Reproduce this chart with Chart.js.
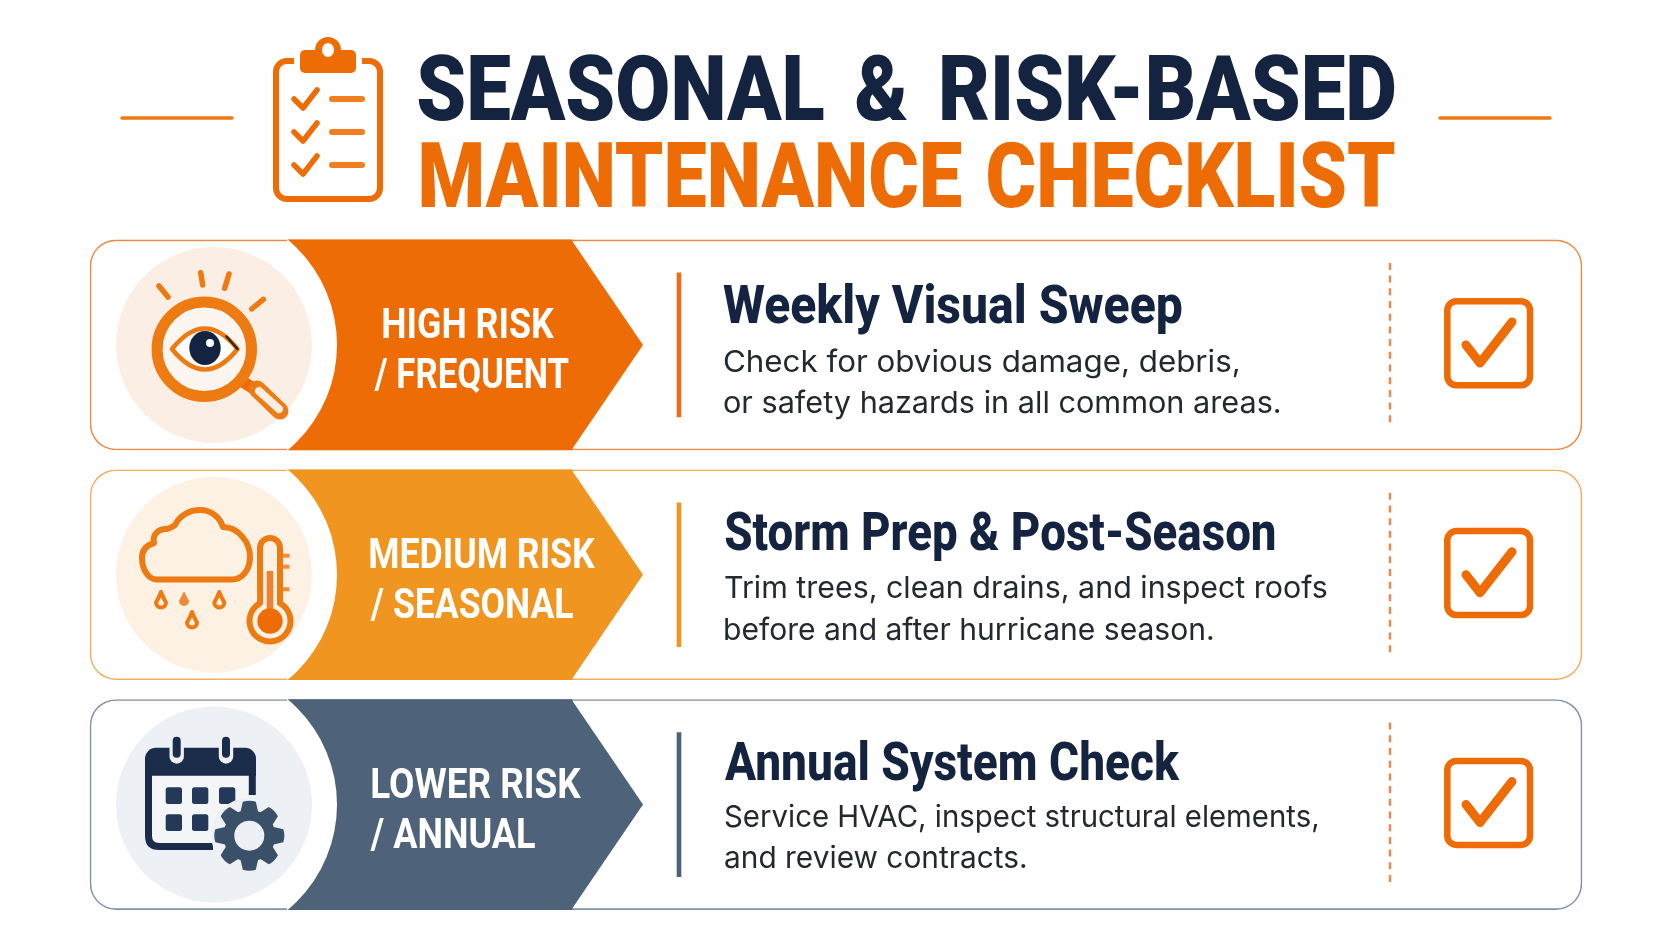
<!DOCTYPE html>
<html><head><meta charset="utf-8">
<style>html,body{margin:0;padding:0;background:#FEFEFE}canvas{display:block}</style>
<script src="https://cdn.jsdelivr.net/npm/chart.js@4"></script>
</head><body><canvas id="c" width="1672" height="941"></canvas>
<script>
// ---------- content ----------
const titleLines = ["SEASONAL & RISK-BASED", "MAINTENANCE CHECKLIST"];
const categories = ["High Risk / Frequent", "Medium Risk / Seasonal", "Lower Risk / Annual"];
const riskLine1 = ["HIGH RISK", "MEDIUM RISK", "LOWER RISK"];
const riskLine2 = ["/ FREQUENT", "/ SEASONAL", "/ ANNUAL"];
const tasks = ["Weekly Visual Sweep", "Storm Prep & Post-Season", "Annual System Check"];
const descLine1 = ["Check for obvious damage, debris,", "Trim trees, clean drains, and inspect roofs", "Service HVAC, inspect structural elements,"];
const descLine2 = ["or safety hazards in all common areas.", "before and after hurricane season.", "and review contracts."];

// ---------- layout and style (kept apart from the content) ----------
const W = 1672, H = 941;
const NAVY = "#14233F", ORANGE = "#EE6C05", LINE = "#EE7A12", INK = "#23292F";
const bandColors = ["#EE6C05", "#F0951F", "#4E6379"];
const borderColors = ["#EC8A48", "#F2AE5E", "#8193A7"];
const accentColors = ["#E8701A", "#F0951F", "#4E6379"];
const discColors = ["#FBEEE4", "#FDF1E3", "#EDF0F4"];
const CARD_SPAN = [90, 1582], BAND_SPAN = [288, 572], ACCENT_SPAN = [677, 681];
const TIP_X = 643, DISC_X = 214, DISC_R = 98, CUT_X = 200, CUT_R = 137;
const SEP_X = 1390;
const L = {
  title: [{l:418,r:1395,b:119.5,c:NAVY,ws:11},{l:421,r:1395,b:207,c:ORANGE,ws:5}],
  risk1: [{l:383,r:554,b:338},{l:370,r:595,b:568},{l:372,r:581,b:798}],
  risk2: [{l:374,r:569,b:388},{l:370,r:573,b:618},{l:370,r:535,b:848}],
  task:  [{l:723,r:1182,b:323},{l:725,r:1275,b:550},{l:725,r:1180,b:780}],
  d1:    [{l:724,r:1239,b:372},{l:725,r:1327,b:598},{l:725,r:1318,b:827}],
  d2:    [{l:724,r:1280,b:413},{l:725,r:1213,b:640},{l:725,r:1026,b:868}]
};

function fit(ctx, s, p, font, color) {
  ctx.save();
  ctx.font = font; ctx.textBaseline = "alphabetic"; ctx.textAlign = "left"; ctx.fillStyle = color;
  ctx.wordSpacing = (p.ws || 0) + "px";
  const m = ctx.measureText(s);
  const ink = m.actualBoundingBoxLeft + m.actualBoundingBoxRight;
  const sx = (p.r - p.l) / ink;
  ctx.translate(p.l + m.actualBoundingBoxLeft * sx, p.b);
  ctx.scale(sx, 1);
  ctx.fillText(s, 0, 0);
  ctx.restore();
}
function rr(ctx, x, y, w, h, r) { ctx.beginPath(); ctx.roundRect(x, y, w, h, r); }
function seg(ctx, x1, y1, x2, y2) { ctx.beginPath(); ctx.moveTo(x1, y1); ctx.lineTo(x2, y2); ctx.stroke(); }
function base(ctx, color, lw) { ctx.strokeStyle = color; ctx.fillStyle = color; ctx.lineWidth = lw; ctx.lineCap = "round"; ctx.lineJoin = "round"; }

function clipboardIcon(ctx) {
  base(ctx, ORANGE, 6);
  rr(ctx, 276, 61, 104, 138, 11); ctx.stroke();
  ctx.fillStyle = "#FEFEFE"; ctx.fillRect(294, 50, 68, 18);
  ctx.fillStyle = "#EE6C05";
  rr(ctx, 300, 50, 56, 23, 5); ctx.fill();
  ctx.beginPath(); ctx.arc(328, 50, 13, 0, Math.PI * 2); ctx.fill();
  ctx.fillStyle = "#FEFEFE"; ctx.beginPath(); ctx.ellipse(328, 50, 6, 7, 0, 0, Math.PI * 2); ctx.fill();
  [99, 132, 165].forEach(y => {
    base(ctx, ORANGE, 5.5);
    ctx.beginPath(); ctx.moveTo(294, y); ctx.lineTo(303, y + 9); ctx.lineTo(317, y - 9); ctx.stroke();
    base(ctx, "#F0801F", 6);
    seg(ctx, 332, y, 362, y);
  });
}
function magnifierIcon(ctx) {
  base(ctx, LINE, 5.5);
  seg(ctx, 159, 286, 168, 297); seg(ctx, 200.7, 272.7, 202.7, 285); seg(ctx, 229, 274, 224.7, 288.3); seg(ctx, 263.3, 299.3, 251.7, 309);
  ctx.lineCap = "butt"; ctx.strokeStyle = ORANGE; ctx.lineWidth = 12; seg(ctx, 240, 380, 256, 390);
  base(ctx, LINE, 17); seg(ctx, 257, 389, 280, 411);
  base(ctx, "#FBEDE2", 8); seg(ctx, 259, 391, 279, 409);
  ctx.fillStyle = "#FDF6F0"; ctx.beginPath(); ctx.arc(204.3, 349.3, 44, 0, Math.PI * 2); ctx.fill();
  base(ctx, LINE, 11);
  ctx.beginPath(); ctx.arc(204.3, 349.3, 47.2, 0, Math.PI * 2); ctx.stroke();
  ctx.beginPath(); ctx.moveTo(172, 349); ctx.quadraticCurveTo(205, 308, 237.5, 349); ctx.quadraticCurveTo(205, 390, 172, 349); ctx.closePath();
  ctx.fillStyle = "#FFFFFF"; ctx.fill();
  ctx.lineWidth = 4.5; ctx.stroke();
  ctx.fillStyle = NAVY; ctx.beginPath(); ctx.ellipse(205, 348, 15.7, 17, 0, 0, Math.PI * 2); ctx.fill();
  ctx.strokeStyle = "#3A2414"; ctx.lineWidth = 2.5; ctx.beginPath(); ctx.moveTo(226.5, 336.5); ctx.lineTo(237.5, 349); ctx.stroke();
  ctx.fillStyle = "#FFFFFF"; ctx.beginPath(); ctx.arc(210, 343, 4, 0, Math.PI * 2); ctx.fill();
}
function drop(ctx, x, top, bottom, halfW, lw, solid) {
  ctx.lineWidth = lw;
  const r = halfW - lw / 2, cy = bottom - lw / 2 - r;
  ctx.beginPath(); ctx.moveTo(x, top + lw / 2);
  ctx.quadraticCurveTo(x + r * 0.4, cy - r, x + r, cy);
  ctx.arc(x, cy, r, 0, Math.PI);
  ctx.quadraticCurveTo(x - r * 0.4, cy - r, x, top + lw / 2);
  ctx.closePath();
  if (solid) ctx.fill();
  ctx.stroke();
}
function cloudIcon(ctx) {
  base(ctx, LINE, 6);
  ctx.beginPath(); ctx.moveTo(157, 579.5);
  ctx.bezierCurveTo(148, 579.5, 142, 569, 142, 558);
  ctx.bezierCurveTo(142, 550, 147, 545, 154, 543);
  ctx.bezierCurveTo(152, 535, 158, 529, 166, 529);
  ctx.bezierCurveTo(169, 529, 172, 527, 175, 525);
  ctx.bezierCurveTo(180, 515, 190, 510, 200, 510);
  ctx.bezierCurveTo(212, 510, 220, 518, 223, 527);
  ctx.bezierCurveTo(238, 527, 250, 542, 250, 557);
  ctx.bezierCurveTo(250, 570, 242, 579.5, 232, 579.5);
  ctx.closePath(); ctx.stroke();
  base(ctx, LINE, 4);
  drop(ctx, 161, 590, 609.5, 7, 4, false);
  ctx.fillStyle = "#EE8A3A"; ctx.strokeStyle = "#EE8A3A";
  drop(ctx, 184, 592, 606, 5, 2, true);
  ctx.strokeStyle = LINE;
  drop(ctx, 219.3, 590, 609.5, 7, 4, false);
  drop(ctx, 192, 610, 629.5, 7, 4, false);
  base(ctx, LINE, 6);
  ctx.beginPath();
  ctx.arc(270, 548, 10, Math.PI, 0);
  ctx.lineTo(280, 602);
  ctx.arc(270, 621, 20.5, -Math.PI * 0.34, Math.PI * 1.34);
  ctx.closePath(); ctx.stroke();
  base(ctx, "#F08C3A", 4); ctx.lineCap = "butt";
  seg(ctx, 283, 555.7, 289.5, 555.7); seg(ctx, 283, 566.7, 289.5, 566.7); seg(ctx, 283, 589.3, 289.5, 589.3);
  ctx.fillStyle = "#EE8230"; ctx.fillRect(266.7, 571, 6.6, 42);
  ctx.fillStyle = "#EE6C05"; ctx.beginPath(); ctx.arc(270, 621, 12.7, 0, Math.PI * 2); ctx.fill();
}
function calendarIcon(ctx) {
  const dark = "#1B2C4B";
  ctx.fillStyle = "#F3F5F7"; ctx.fillRect(151, 775, 98, 68);
  ctx.fillStyle = dark;
  ctx.beginPath(); ctx.roundRect(145, 747.7, 111, 28, [11, 11, 0, 0]); ctx.fill();
  base(ctx, dark, 7); ctx.lineCap = "butt"; ctx.lineJoin = "round";
  ctx.beginPath(); ctx.moveTo(148.5, 772); ctx.lineTo(148.5, 836); ctx.quadraticCurveTo(148.5, 846.5, 159, 846.5); ctx.lineTo(213, 846.5); ctx.stroke();
  seg(ctx, 252.3, 772, 252.3, 795);
  [176.7, 226].forEach(x => {
    rr(ctx, x - 7.2, 736.7, 14.4, 27, 7.2);
    ctx.fillStyle = "#EDF0F4"; ctx.fill();
    rr(ctx, x - 4, 736.7, 8, 21, 4);
    ctx.fillStyle = dark; ctx.fill();
  });
  ctx.fillStyle = "#24385A";
  [[165.7, 787.3], [192, 787.3], [219, 787.3], [165.7, 814.3], [192, 814.3]].forEach(([x, y]) => { rr(ctx, x, y, 16.3, 16.7, 2.5); ctx.fill(); });
  const gx = 249.3, gy = 835.7;
  ctx.fillStyle = discColors[2]; ctx.beginPath(); ctx.arc(gx, gy, 38, 0, Math.PI * 2); ctx.fill();
  ctx.fillStyle = "#3A4F68";
  ctx.beginPath(); ctx.arc(gx, gy, 26, 0, Math.PI * 2); ctx.fill();
  for (let i = 0; i < 8; i++) {
    ctx.save(); ctx.translate(gx, gy); ctx.rotate(i * Math.PI / 4);
    ctx.beginPath(); ctx.moveTo(-9, -23); ctx.lineTo(-6.5, -34); ctx.quadraticCurveTo(0, -36, 6.5, -34); ctx.lineTo(9, -23); ctx.closePath(); ctx.fill();
    ctx.restore();
  }
  ctx.fillStyle = "#EDF0F4"; ctx.beginPath(); ctx.arc(gx, gy, 15, 0, Math.PI * 2); ctx.fill();
}
const iconDrawers = [magnifierIcon, cloudIcon, calendarIcon];

const decor = {
  id: "decor",
  afterDatasetsDraw(chart) {
    const ctx = chart.ctx, xs = chart.scales.x, ys = chart.scales.y;
    ctx.save();
    base(ctx, "#EE7A12", 3.5);
    seg(ctx, 122, 118, 232, 118); seg(ctx, 1440, 118, 1550, 118);
    clipboardIcon(ctx);
    titleLines.forEach((s, i) => { const p = L.title[i]; fit(ctx, s, p, '900 90px Roboto', p.c); });
    categories.forEach((cat, i) => {
      const cy = ys.getPixelForValue(i);
      const bar = chart.getDatasetMeta(1).data[i];
      const hh = bar.height / 2;
      const bx = xs.getPixelForValue(BAND_SPAN[1]);
      const bl = xs.getPixelForValue(BAND_SPAN[0]);
      ctx.fillStyle = bandColors[i];
      ctx.beginPath(); ctx.moveTo(bx - 0.5, cy - hh); ctx.lineTo(xs.getPixelForValue(TIP_X), cy); ctx.lineTo(bx - 0.5, cy + hh); ctx.closePath(); ctx.fill();
      ctx.save();
      ctx.beginPath(); ctx.rect(bl - 1, cy - hh - 1, 100, 2 * hh + 2); ctx.clip();
      ctx.fillStyle = "#FFFFFF";
      ctx.beginPath(); ctx.arc(xs.getPixelForValue(CUT_X), cy, CUT_R, 0, Math.PI * 2); ctx.fill();
      ctx.restore();
      ctx.fillStyle = discColors[i];
      ctx.beginPath(); ctx.arc(xs.getPixelForValue(DISC_X), cy, DISC_R, 0, Math.PI * 2); ctx.fill();
      iconDrawers[i](ctx);
      ctx.save();
      ctx.strokeStyle = "#E88B50"; ctx.lineWidth = 2.5; ctx.lineCap = "butt";
      ctx.setLineDash([7, 5.7]);
      seg(ctx, SEP_X, cy - 82, SEP_X, cy + 82);
      ctx.restore();
      base(ctx, ORANGE, 6.5);
      rr(ctx, 1447.3, cy - 43.7, 82.7, 84, 9); ctx.stroke();
      base(ctx, ORANGE, 9);
      ctx.beginPath(); ctx.moveTo(1466, cy); ctx.lineTo(1480, cy + 18); ctx.lineTo(1512, cy - 23); ctx.stroke();
      fit(ctx, riskLine1[i], L.risk1[i], '700 42px Roboto', "#FFFFFF");
      fit(ctx, riskLine2[i], L.risk2[i], '700 42px Roboto', "#FFFFFF");
      fit(ctx, tasks[i], L.task[i], '800 53px Roboto', NAVY);
      fit(ctx, descLine1[i], L.d1[i], '400 30px Inter', INK);
      fit(ctx, descLine2[i], L.d2[i], '400 30px Inter', INK);
    });
    ctx.restore();
  }
};

new Chart(document.getElementById("c"), {
  type: "bar",
  data: {
    labels: categories,
    datasets: [
      { label: "Task card", order: 3, data: categories.map(() => CARD_SPAN), backgroundColor: "#FFFFFF", borderColor: borderColors, borderWidth: 1.6, borderSkipped: false, borderRadius: 26, barThickness: 210, grouped: false },
      { label: "Risk band", order: 2, data: categories.map(() => BAND_SPAN), backgroundColor: bandColors, borderWidth: 0, barThickness: 210, grouped: false },
      { label: "Accent rule", order: 1, data: categories.map(() => ACCENT_SPAN), backgroundColor: accentColors, borderWidth: 0, barThickness: 144, grouped: false }
    ]
  },
  options: {
    indexAxis: "y",
    responsive: false,
    animation: false,
    devicePixelRatio: 1,
    layout: { padding: { top: 230, bottom: 21.5, left: 0, right: 0 } },
    plugins: { legend: { display: false }, tooltip: { enabled: false }, title: { display: false } },
    scales: {
      x: { type: "linear", min: 0, max: W, display: false },
      y: { type: "category", display: false }
    }
  },
  plugins: [decor]
});
</script></body></html>
